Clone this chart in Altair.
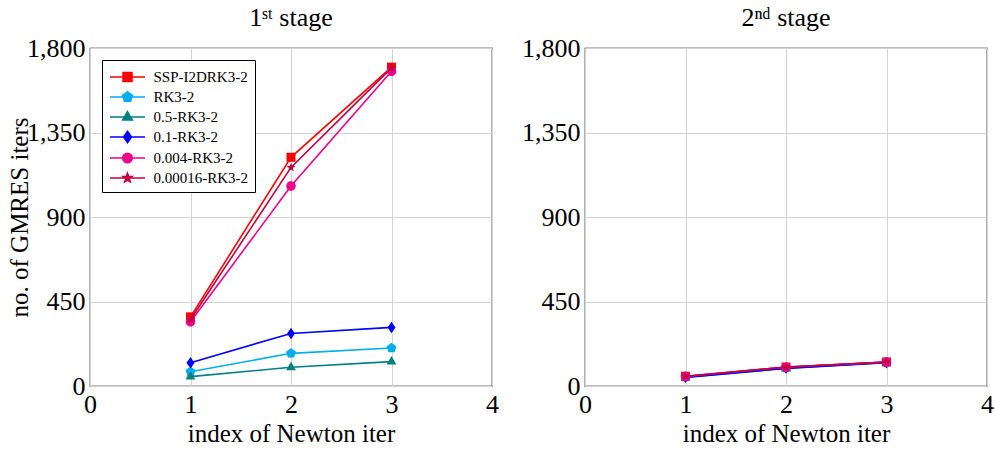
import math
import altair as alt
import pandas as pd

# ---------------- data ----------------
methods = ["SSP-I2DRK3-2", "RK3-2", "0.5-RK3-2", "0.1-RK3-2", "0.004-RK3-2", "0.00016-RK3-2"]
colors = ["#ff0000", "#00aeef", "#008080", "#0000ff", "#ec008c", "#bf0040"]
newton_iter = [1, 2, 3]

stage1 = {
    "SSP-I2DRK3-2": [368, 1218, 1698],
    "RK3-2": [76, 174, 202],
    "0.5-RK3-2": [50, 100, 130],
    "0.1-RK3-2": [124, 280, 312],
    "0.004-RK3-2": [342, 1065, 1676],
    "0.00016-RK3-2": [354, 1164, 1694],
}
stage2 = {
    "SSP-I2DRK3-2": [52, 101, 128],
    "RK3-2": [48, 96, 126],
    "0.5-RK3-2": [47, 95, 125],
    "0.1-RK3-2": [46, 94, 124],
    "0.004-RK3-2": [51, 100, 127],
    "0.00016-RK3-2": [52, 101, 128],
}

x_ticks = [0, 1, 2, 3, 4]
y_ticks = [0, 450, 900, 1350, 1800]

FONT = "Liberation Serif"


# ---------------- marker shapes (unit paths) ----------------
def poly(points, s=1.0):
    pts = [(x * s, y * s) for x, y in points]
    d = "M%.3f,%.3f" % pts[0]
    for p in pts[1:]:
        d += "L%.3f,%.3f" % p
    return d + "Z"


def circle(r, s=1.0):
    r = r * s
    return "M%.3f,0A%.3f %.3f 0 1 0 %.3f 0A%.3f %.3f 0 1 0 %.3f 0Z" % (-r, r, r, r, r, r, -r)


def regular(n, r, rot=-90):
    return [(r * math.cos(math.radians(rot + 360 * k / n)), r * math.sin(math.radians(rot + 360 * k / n))) for k in range(n)]


def star(ro, ri):
    pts = []
    for k in range(10):
        r = ro if k % 2 == 0 else ri
        a = math.radians(-90 + 36 * k)
        pts.append((r * math.cos(a), r * math.sin(a)))
    return pts


marker_defs = [
    ("poly", [(-0.9, -0.9), (0.9, -0.9), (0.9, 0.9), (-0.9, 0.9)]),
    ("poly", regular(5, 1.05)),
    ("poly", [(0, -1.1), (0.98, 0.6), (-0.98, 0.6)]),
    ("poly", [(0, -1.15), (0.8, 0), (0, 1.15), (-0.8, 0)]),
    ("circle", 0.95),
    ("poly", star(0.95, 0.4)),
]


def marker_path(defn, s=1.0):
    kind, val = defn
    return poly(val, s) if kind == "poly" else circle(val, s)


point_paths = [marker_path(d) for d in marker_defs]
LEG_UNIT = 10.0        # px per path unit in the legend (symbol box 20px)
LEG_LINE_HALF = 17.5   # px, half length of the legend line
legend_paths = [
    "M%.3f,0H%.3f" % (-LEG_LINE_HALF / LEG_UNIT, LEG_LINE_HALF / LEG_UNIT) + marker_path(d, 5.0 / LEG_UNIT)
    for d in marker_defs
]


def to_df(stage):
    rows = []
    for m in methods:
        for it, v in zip(newton_iter, stage[m]):
            rows.append({"method": m, "iter": it, "iters": v})
    return pd.DataFrame(rows)


def panel(stage, title, show_ytitle):
    df = to_df(stage)
    base = alt.Chart(df)
    xenc = alt.X(
        "iter:Q",
        scale=alt.Scale(domain=[0, 4], nice=False, zero=False),
        axis=alt.Axis(values=x_ticks, format="d", labelFlush=False, title="index of Newton iter"),
    )
    yaxis = dict(values=y_ticks, format=",d", labelFlush=False)
    if show_ytitle:
        yaxis.update(title="no. of GMRES iters", titleX=-71, titleY=169, titleBaseline="middle", titleAlign="center", titleAngle=-90)
    else:
        yaxis.update(title=None)
    yenc = alt.Y("iters:Q", scale=alt.Scale(domain=[0, 1800], nice=False), axis=alt.Axis(**yaxis))

    layers = []
    for m, c, p in zip(methods, colors, point_paths):
        sub = base.transform_filter(alt.datum.method == m)
        layers.append(sub.mark_line(color=c, strokeWidth=1.6).encode(x=xenc, y=yenc))
        layers.append(sub.mark_point(shape=p, filled=True, size=100, color=c, opacity=1).encode(x=xenc, y=yenc))

    leg = alt.Legend(title=None, orient="top-left")
    legend_layer = base.transform_filter("false").mark_point(filled=True, opacity=1).encode(
        fill=alt.Fill("method:N", scale=alt.Scale(domain=methods, range=colors), legend=leg),
        stroke=alt.Stroke("method:N", scale=alt.Scale(domain=methods, range=colors), legend=leg),
        shape=alt.Shape("method:N", scale=alt.Scale(domain=methods, range=legend_paths), legend=leg),
    )
    layers.append(legend_layer)
    return alt.layer(*layers).properties(width=402, height=338, title=title)


p1 = panel(stage1, "1ˢᵗ stage", True)
p2 = panel(stage2, "2ⁿᵈ stage", False)

chart = (
    alt.hconcat(p1, p2, spacing=20)
    .properties(padding={"left": 6, "top": 4, "right": 0, "bottom": 0})
    .configure_view(stroke="black", strokeWidth=1.2)
    .configure_axis(
        grid=True,
        gridColor="#d3d3d3",
        gridWidth=1,
        domain=False,
        ticks=False,
        labelFont=FONT,
        labelFontSize=26,
        labelColor="black",
        labelPadding=5,
        titleFont=FONT,
        titleFontSize=25,
        titleFontWeight="normal",
        titleColor="black",
        titlePadding=4,
    )
    .configure_title(font=FONT, fontSize=26, fontWeight="normal", color="black", anchor="middle", offset=4)
    .configure_legend(
        orient="top-left",
        offset=12,
        padding=6,
        strokeColor="black",
        fillColor="white",
        labelFont=FONT,
        labelFontSize=15,
        labelColor="black",
        labelOffset=(LEG_LINE_HALF - LEG_UNIT) * 2,
        symbolOffset=LEG_LINE_HALF - LEG_UNIT + 1,
        symbolSize=(2 * LEG_UNIT) ** 2,
        symbolStrokeWidth=1.5,
        rowPadding=1,
        cornerRadius=0,
    )
)

chart.save("out.html", embed_options={"renderer": "svg", "actions": False})
